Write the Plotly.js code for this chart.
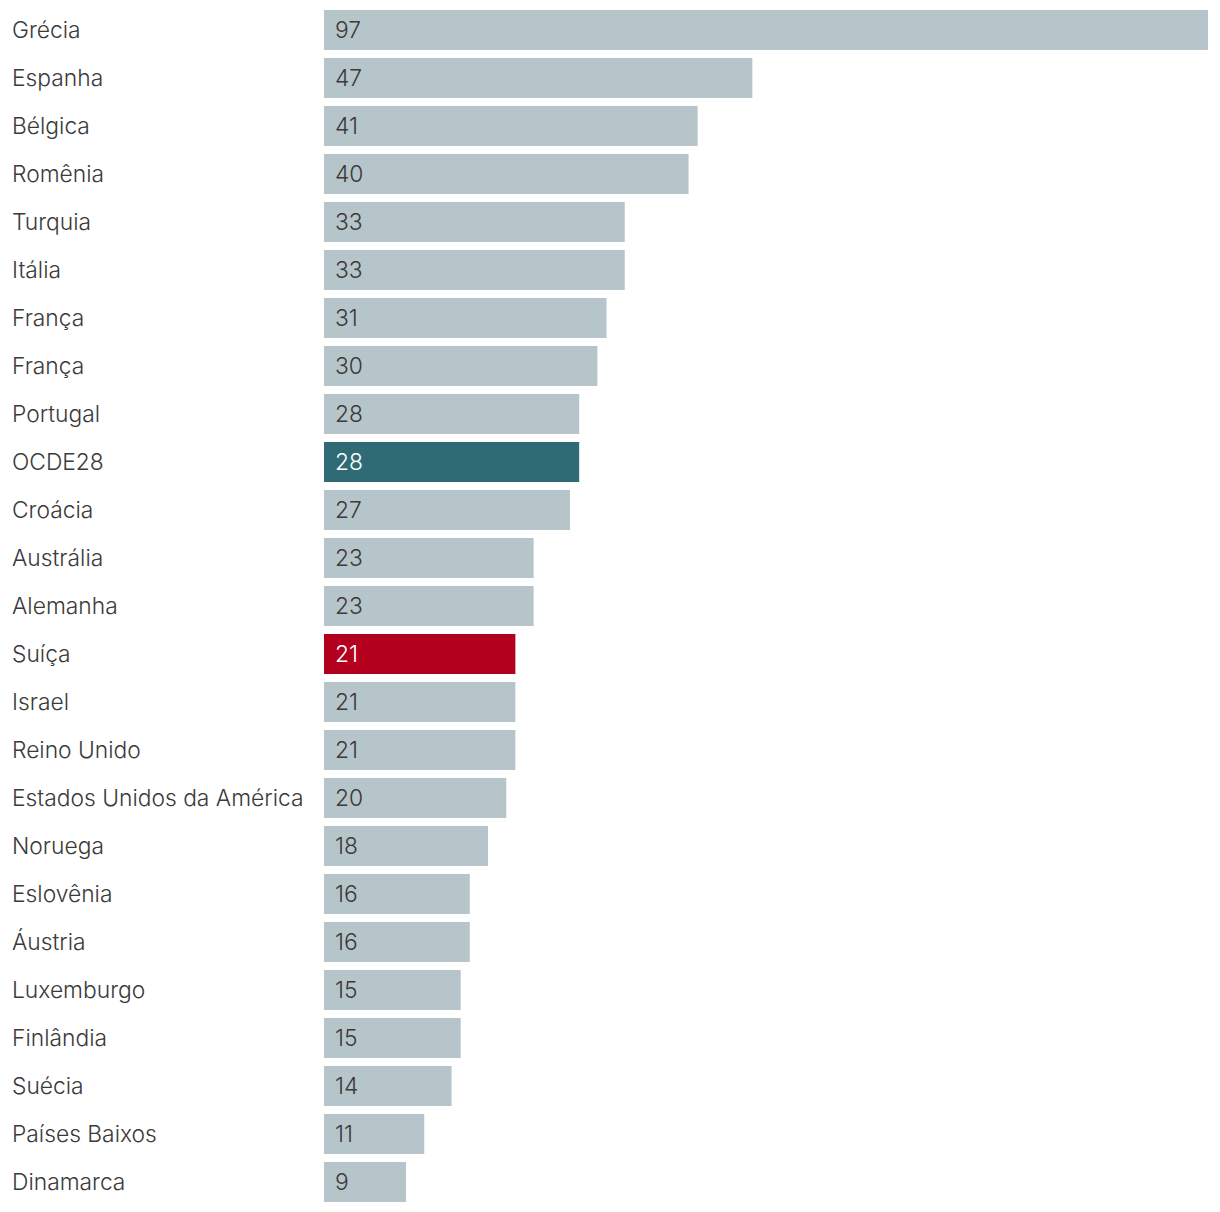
<!DOCTYPE html>
<html><head><meta charset="utf-8">
<script src="https://cdn.plot.ly/plotly-3.0.1.min.js"></script>
<style>html,body{margin:0;padding:0;background:#fff}#c{width:1220px;height:1212px}</style>
</head><body><div id="c"></div>
<script>
const categories = ["Grécia","Espanha","Bélgica","Romênia","Turquia","Itália","França","França","Portugal","OCDE28","Croácia","Austrália","Alemanha","Suíça","Israel","Reino Unido","Estados Unidos da América","Noruega","Eslovênia","Áustria","Luxemburgo","Finlândia","Suécia","Países Baixos","Dinamarca"];
const values = [97,47,41,40,33,33,31,30,28,28,27,23,23,21,21,21,20,18,16,16,15,15,14,11,9];
const highlight = {"OCDE28":"#2e6b75","Suíça":"#b3001e"};

const GRAY = "#b6c5c9";
const FONT = "'Inter Light', Inter, 'Noto Sans', sans-serif";
const ids = categories.map((c,i)=>"r"+i);
const colors = categories.map(c => highlight[c] || GRAY);

const annotations = [];
categories.forEach((c,i)=>{
  annotations.push({x:0, y:ids[i], xref:'x', yref:'y', text:c, xanchor:'left', yanchor:'middle',
    xshift:-314, yshift:1, showarrow:false, font:{family:FONT, size:22.8, color:'#3a3a3a', weight:300}});
  annotations.push({x:0, y:ids[i], xref:'x', yref:'y', text:String(values[i]), xanchor:'left', yanchor:'middle',
    xshift:9, yshift:1, showarrow:false, font:{family:FONT, size:22.8, color: highlight[c] ? '#ffffff' : '#3a3a3a', weight:300}});
});

Plotly.newPlot('c', [{
  type:'bar', orientation:'h', x:values, y:ids, marker:{color:colors}, hoverinfo:'none'
}], {
  width:1220, height:1212,
  margin:{l:324, r:12, t:6, b:6},
  bargap:8/48,
  showlegend:false,
  paper_bgcolor:'#fff', plot_bgcolor:'#fff',
  xaxis:{range:[0,97], visible:false, fixedrange:true},
  yaxis:{autorange:'reversed', visible:false, type:'category', fixedrange:true},
  annotations:annotations
}, {staticPlot:true});
</script></body></html>
